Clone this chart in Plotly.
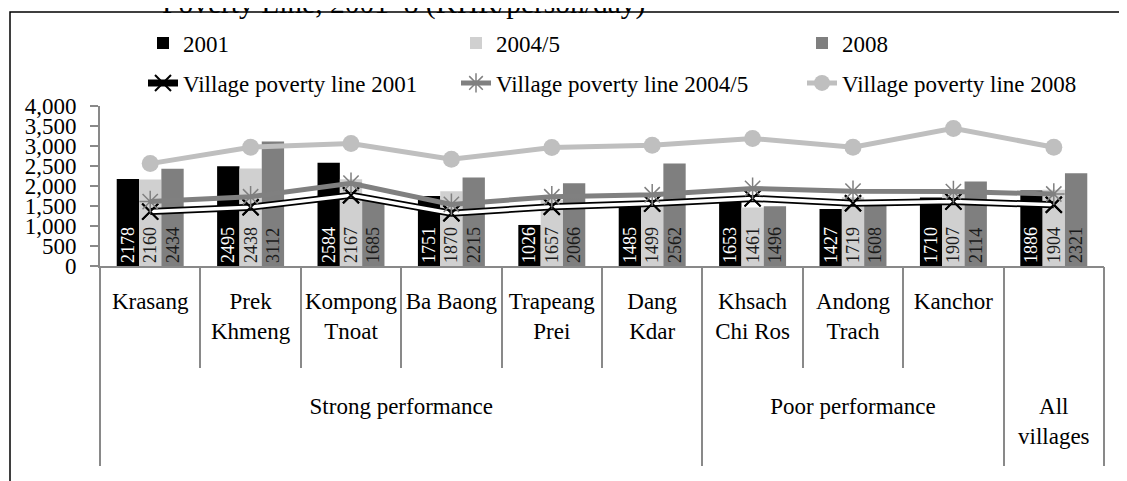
import plotly.graph_objects as go

groups = ["Strong performance"] * 6 + ["Poor performance"] * 3 + ["All<br>villages"]
villages = ["Krasang", "Prek<br>Khmeng", "Kompong<br>Tnoat", "Ba Baong", "Trapeang<br>Prei",
            "Dang<br>Kdar", "Khsach<br>Chi Ros", "Andong<br>Trach", "Kanchor", " "]

v2001 = [2178, 2495, 2584, 1751, 1026, 1485, 1653, 1427, 1710, 1886]
v2004 = [2160, 2438, 2167, 1870, 1657, 1499, 1461, 1719, 1907, 1904]
v2008 = [2434, 3112, 1685, 2215, 2066, 2562, 1496, 1608, 2114, 2321]

pl2001 = [1360, 1470, 1770, 1320, 1480, 1560, 1690, 1570, 1610, 1530]
pl2004 = [1610, 1730, 2070, 1540, 1730, 1780, 1940, 1870, 1860, 1800]
pl2008 = [2560, 2970, 3060, 2670, 2960, 3020, 3190, 2970, 3440, 2970]

# group runs derived from the groups list (category index space)
group_names, group_centers, group_bounds = [], [], [-0.5]
start = 0
for i in range(1, len(groups) + 1):
    if i == len(groups) or groups[i] != groups[start]:
        group_names.append(groups[start])
        group_centers.append((start + i - 1) / 2)
        group_bounds.append(i - 0.5)
        start = i

FONT = "Liberation Serif, Times New Roman, serif"
GREY = "#898989"
x = villages

fig = go.Figure()

def bar(vals, name, color, tcolor, leg):
    fig.add_trace(go.Bar(
        x=x, y=vals, name=name, marker=dict(color=color, line=dict(width=0)),
        text=[str(v) for v in vals], textposition="inside", insidetextanchor="start",
        textangle=-90, constraintext="none",
        textfont=dict(family=FONT, size=18, color=tcolor), legend=leg,
        hoverinfo="skip"))

bar(v2001, "2001", "#000000", "#ffffff", "legend")
bar(v2004, "2004/5", "#d0d0d0", "#1a1a1a", "legend2")
bar(v2008, "2008", "#7f7f7f", "#1a1a1a", "legend3")

# Village poverty line 2001: white line outlined in black with X markers
fig.add_trace(go.Scatter(x=x, y=pl2001, mode="lines+markers", name="Village poverty line 2001",
                         line=dict(color="#000000", width=7),
                         marker=dict(symbol="x-thin", size=16, line=dict(color="#000000", width=2)),
                         legend="legend4"))
fig.add_trace(go.Scatter(x=x, y=pl2001, mode="lines", showlegend=False,
                         line=dict(color="#ffffff", width=3.5), hoverinfo="skip"))
fig.add_trace(go.Scatter(x=x, y=pl2001, mode="markers", showlegend=False,
                         marker=dict(symbol="x-thin", size=16, line=dict(color="#000000", width=2)),
                         hoverinfo="skip"))
fig.add_trace(go.Scatter(x=x, y=pl2004, mode="lines+markers", name="Village poverty line 2004/5",
                         line=dict(color="#808080", width=5),
                         marker=dict(symbol="asterisk-open", size=18, line=dict(color="#9a9a9a", width=1.5)),
                         legend="legend5"))
fig.add_trace(go.Scatter(x=x, y=pl2008, mode="lines+markers", name="Village poverty line 2008",
                         line=dict(color="#bfbfbf", width=5),
                         marker=dict(symbol="circle", size=17, color="#bfbfbf"),
                         legend="legend6"))
# helper traces (draw nothing) so the overlay axes for the group level exist
fig.add_trace(go.Scatter(x=group_centers, y=[0] * len(group_centers), xaxis="x2", mode="none",
                         showlegend=False, hoverinfo="skip"))
fig.add_trace(go.Scatter(x=group_bounds, y=[0] * len(group_bounds), xaxis="x3", mode="none",
                         showlegend=False, hoverinfo="skip"))

# page body has an 8px margin: work in figure pixels = screen pixels - 8
OFF = 8
W, H = 1127 - OFF, 481 - OFF
L, R, T, B = 100 - OFF, 23, 106 - OFF, 215
pw, ph = W - L - R, H - T - B

def px(xs):
    return (xs - OFF - L) / pw

def py(ys):
    return (H - B - (ys - OFF)) / ph

legfont = dict(family=FONT, size=23, color="black")
def leg(xs, ys):
    return dict(x=px(xs), y=py(ys), xanchor="left", yanchor="middle", font=legfont,
                bgcolor="rgba(0,0,0,0)", itemwidth=30, orientation="v")

tickfont = dict(family=FONT, size=23, color="black")
XR = [-0.5, len(villages) - 0.5]

fig.update_layout(
    width=W, height=H,
    margin=dict(l=L, r=R, t=T, b=B, autoexpand=False),
    paper_bgcolor="white", plot_bgcolor="white",
    barmode="group", bargap=0.333, bargroupgap=0,
    font=dict(family=FONT, size=23, color="black"),
    legend=leg(143, 43), legend2=leg(456, 43), legend3=leg(802, 43),
    legend4=leg(143, 83), legend5=leg(456, 83), legend6=leg(802, 83),
    yaxis=dict(range=[0, 4000], dtick=500, tickformat=",", showgrid=False, zeroline=False,
               showline=True, linecolor=GREY, linewidth=2, ticks="outside", ticklen=8,
               tickcolor=GREY, tickwidth=1.5, ticklabelstandoff=9, automargin=False,
               tickfont=tickfont),
    xaxis=dict(type="category", range=XR, showline=True, linecolor=GREY, linewidth=2,
               ticks="outside", tickson="boundaries", ticklen=100, tickcolor=GREY, tickwidth=2,
               ticklabelstandoff=13, tickangle=0, automargin=False, showgrid=False,
               tickfont=tickfont),
    xaxis2=dict(type="linear", overlaying="x", anchor="y", side="bottom", range=XR,
                tickmode="array", tickvals=group_centers, ticktext=group_names,
                ticks="", showline=False, showgrid=False, zeroline=False, tickangle=0,
                ticklabelstandoff=124, automargin=False, tickfont=tickfont),
    xaxis3=dict(type="linear", overlaying="x", anchor="y", side="bottom", range=XR,
                tickmode="array", tickvals=group_bounds, showticklabels=False,
                ticks="outside", ticklen=199, tickcolor=GREY, tickwidth=2,
                showline=False, showgrid=False, zeroline=False, automargin=False),
    showlegend=True,
)

# outer frame of the document figure
fig.add_shape(type="rect", xref="paper", yref="paper", x0=px(10), x1=px(1150), y0=py(520), y1=py(12),
              line=dict(color="black", width=1.5), layer="below")
fig.add_annotation(text="Poverty Line, 2001\u20138 (KHR/person/day)", xref="paper", yref="paper",
                   x=px(160), y=py(3), xanchor="left", yanchor="middle", showarrow=False,
                   font=dict(family=FONT, size=29.5, color="black"))

fig.write_html("out.html")
